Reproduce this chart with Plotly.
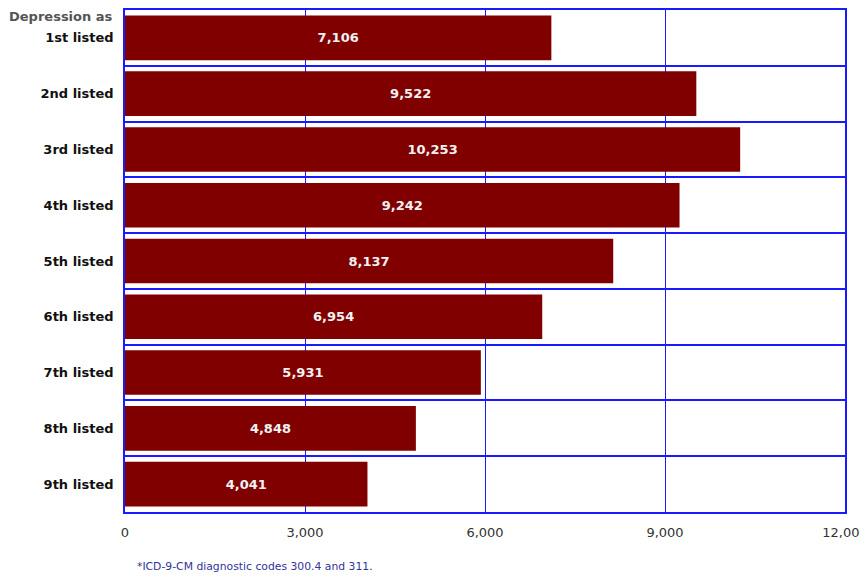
import plotly.graph_objects as go

categories = ["1st listed", "2nd listed", "3rd listed", "4th listed", "5th listed",
              "6th listed", "7th listed", "8th listed", "9th listed"]
values = [7106, 9522, 10253, 9242, 8137, 6954, 5931, 4848, 4041]
tick_vals = [0, 3000, 6000, 9000, 12000]
tick_text = ["0", "3,000", "6,000", "9,000", "12,000"]

FONT = "DejaVu Sans"
BLUE = "#1a1aff"

# page body has an 8px default margin; figure is sized/offset to compensate
W, H = 860, 569
L, T = 117, 2
PLOT_W, PLOT_H = 720, 502

fig = go.Figure(go.Bar(
    x=values, y=categories, orientation="h",
    marker=dict(color="#800000", line=dict(width=0)),
    width=0.8,
    texttemplate="<b>%{x:,}</b>", textposition="inside", insidetextanchor="middle",
    textfont=dict(family=FONT, size=13, color="#f2f2f2"),
    hoverinfo="skip",
))

fig.update_layout(
    width=W, height=H,
    margin=dict(l=L, r=W - L - PLOT_W, t=T, b=H - T - PLOT_H, autoexpand=False),
    paper_bgcolor="white", plot_bgcolor="white",
    showlegend=False,
    font=dict(family=FONT),
    xaxis=dict(
        range=[0, 12000], tickvals=tick_vals, ticktext=tick_text,
        showgrid=True, gridcolor=BLUE, gridwidth=1,
        showline=True, linecolor=BLUE, linewidth=1.5, mirror=True,
        zeroline=False, ticks="", ticklabelstandoff=8,
        tickfont=dict(family=FONT, size=13, color="#333333"),
        automargin=False, layer="below traces",
    ),
    yaxis=dict(
        autorange="reversed", tickson="boundaries",
        showgrid=True, gridcolor=BLUE, gridwidth=1.5,
        showline=True, linecolor=BLUE, linewidth=1.5, mirror=True,
        ticks="", ticklabelstandoff=7,
        tickfont=dict(family=FONT, size=13, color="#111111", weight="bold"),
        automargin=False,
    ),
    bargap=0.2,
    annotations=[
        dict(text="<b>Depression as</b>", xref="paper", yref="paper",
             x=-L / PLOT_W, y=1 + T / PLOT_H, xanchor="left", yanchor="top",
             borderpad=0,
             showarrow=False, font=dict(family=FONT, size=13, color="#555555")),
        dict(text="*ICD-9-CM diagnostic codes 300.4 and 311.", xref="paper", yref="paper",
             x=10 / PLOT_W, y=-54 / PLOT_H, xanchor="left", yanchor="middle",
             showarrow=False, font=dict(family=FONT, size=10.8, color="#333399")),
    ],
)

fig.write_html("out.html")
